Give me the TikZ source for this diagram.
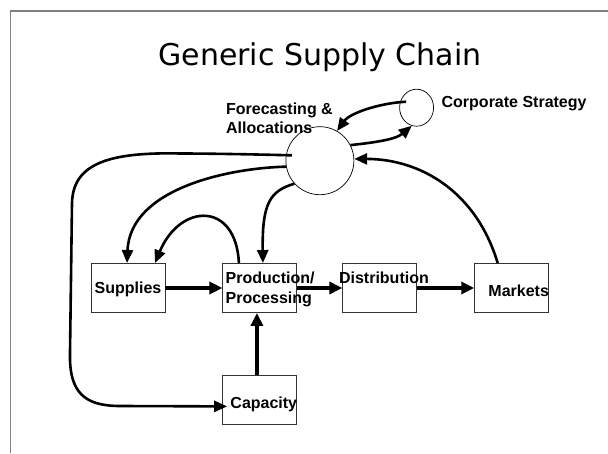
\documentclass[tikz,border=0pt]{standalone}
\usepackage{fontspec}
\setmainfont{Liberation Sans}
\newfontfamily\titlefont{DejaVu Sans}
\usepackage{tikz}
\usetikzlibrary{positioning, arrows.meta, shapes.geometric}

\tikzset{
  stage/.style={draw=black!80, line width=0.9pt, minimum width=74pt, minimum height=49pt, inner sep=0pt},
  hub/.style={draw, circle, line width=0.7pt, minimum size=68pt, inner sep=0pt},
  goal/.style={draw, ellipse, line width=0.7pt, minimum width=34pt, minimum height=37pt, inner sep=0pt},
  tag/.style={inner sep=0pt, align=left, font=\fontsize{16}{20}\selectfont\bfseries},
  flow/.style={line width=4pt, -{Triangle[length=13pt,width=12pt]}},
  info/.style={line width=2.6pt, -{Triangle[length=13pt,width=11pt]}},
}

\begin{document}
\begin{tikzpicture}[x=1pt, y=1pt]
\useasboundingbox (0,0) rectangle (608,453);
\draw[gray, line width=1.6pt] (10.5,0) -- (10.5,442) -- (608,442);

\node[anchor=base, font=\titlefont\fontsize{30}{36}\selectfont] (title) at (320,387) {Generic Supply Chain};

\node[stage] (sup) at (128,165) {};
\node[stage, right=57pt of sup] (prod) {};
\node[stage, right=45pt of prod] (dist) {};
\node[stage, right=57pt of dist] (mkt) {};
\node[stage, below=62pt of prod] (cap) {};

\node[tag, anchor=base] (sup-t) at ([yshift=-5.5pt]sup.center) {Supplies};
\node[tag, anchor=base west] (prod-t) at ([xshift=3pt,yshift=-15.4pt]prod.west) {Production/\\Processing};
\node[tag, anchor=base west] (dist-t) at ([xshift=-3.5pt,yshift=4.7pt]dist.west) {Distribution};
\node[tag, anchor=base east] (mkt-t) at ([yshift=-8.7pt]mkt.east) {Markets};
\node[tag, anchor=base east] (cap-t) at ([yshift=-8.8pt]cap.east) {Capacity};

\node[hub, above=68pt of prod, xshift=60pt] (fc) {};
\node[tag, anchor=base west, font=\fontsize{16}{19}\selectfont\bfseries] (fc-t) at ([xshift=-94pt,yshift=-7.2pt]fc.north) {Forecasting \&\\Allocations};
\node[goal, right=45pt of fc, yshift=53pt] (cs) {};
\node[tag, anchor=base west] (cs-t) at ([xshift=7.5pt]cs.east) {Corporate Strategy};

\draw[flow] (sup.east) -- (prod.west);
\draw[flow] (prod.east) -- (dist.west);
\draw[flow] (dist.east) -- (mkt.west);
\draw[flow] ([xshift=-3pt]cap.north) -- ([xshift=-3pt]prod.south);

\draw[info] ([xshift=6pt]cs.160) .. controls (380,350) and (350,340) .. (fc.60);
\draw[info] (fc.27) .. controls (370,310) and (395,313) .. (cs.255);
\draw[info] ([xshift=-14pt]mkt.north) .. controls (476,262) and (420,294) .. (fc.3);
\draw[info] (fc.190) .. controls (230,285) and (130,265) .. ([xshift=-1pt]sup.north);
\draw[info] ([xshift=-21pt]prod.north) .. controls (236,252) and (180,250) .. ([xshift=27pt]sup.north);
\draw[info] (fc.222) .. controls (270,262) and (262,250) .. ([xshift=3pt]prod.north);
\draw[info] ([xshift=6pt]fc.171) .. controls (240,299) and (200,299.5) .. (180,299.5)
  .. controls (110,301) and (73,290) .. (72,250) -- (70,100)
  .. controls (69,60) and (85,47) .. (120,47) -- ([xshift=4.7pt,yshift=-6.5pt]cap.west);

\end{tikzpicture}
\end{document}
